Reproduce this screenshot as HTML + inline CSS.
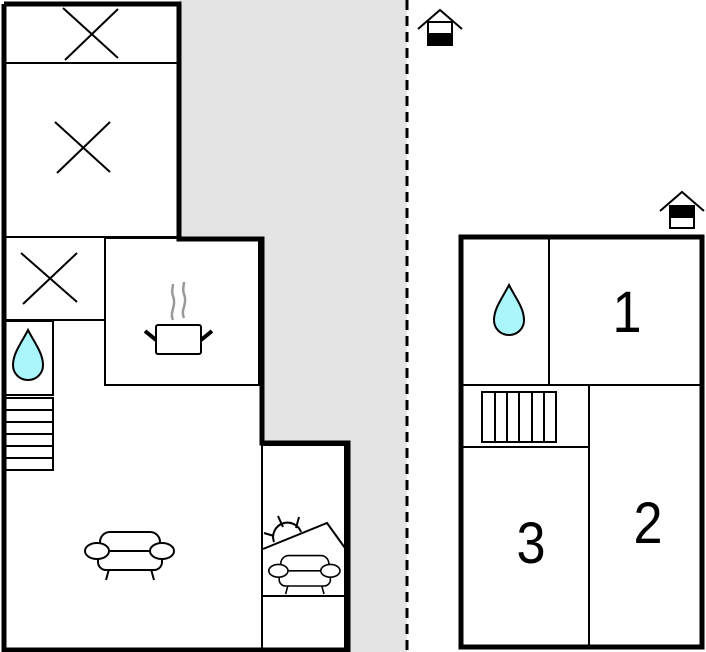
<!DOCTYPE html>
<html><head><style>html,body{margin:0;padding:0;background:#fff}svg{display:block}</style></head><body>
<svg width="706" height="652" viewBox="0 0 706 652" xmlns="http://www.w3.org/2000/svg" font-family="Liberation Sans, sans-serif">
<defs>
<g id="sofa" fill="#fff" stroke="#000" stroke-width="2">
<line x1="-20" y1="14" x2="-23" y2="25"/><line x1="22" y1="14" x2="25" y2="25"/>
<rect x="-29" y="-23" width="60" height="26" rx="10"/>
<rect x="-31" y="-4" width="64" height="19" rx="8"/>
<ellipse cx="-32" cy="-4" rx="12" ry="8"/><ellipse cx="33" cy="-4" rx="12" ry="8"/>
</g>
<g id="drop"><path d="M0,-25 C6,-13 15,-2 15,10 C15,19 8,25 0,25 C-8,25 -15,19 -15,10 C-15,-2 -6,-13 0,-25Z" fill="#aaf6fa" stroke="#000" stroke-width="2"/></g>
<g id="house" stroke="#000" fill="none" stroke-width="2"><polyline points="-22,11 0,-8 22,11"/></g>
</defs>
<rect x="179" y="0" width="228" height="652" fill="#e4e4e4"/>
<line x1="407" y1="0" x2="407" y2="652" stroke="#000" stroke-width="3" stroke-dasharray="10,6"/>
<polygon points="4,2 179,2 179,237 262,237 262,441 348,441 348,650 4,650" fill="#fff"/>
<g stroke="#000" stroke-width="2" fill="none">
<line x1="4" y1="63" x2="179" y2="63"/>
<line x1="63" y1="8" x2="118" y2="58"/><line x1="65" y1="60" x2="118" y2="9"/>
<line x1="55" y1="122" x2="110" y2="172"/><line x1="57" y1="173" x2="110" y2="122"/>
<line x1="4" y1="237" x2="179" y2="237"/>
<rect x="105" y="238" width="154" height="147"/>
<line x1="4" y1="320" x2="105" y2="320"/>
<line x1="21" y1="253" x2="77" y2="302"/><line x1="23" y1="304" x2="77" y2="253"/>
<rect x="4" y="321" width="49" height="74"/>
<rect x="4" y="398" width="49" height="72"/>
<line x1="4" y1="410" x2="53" y2="410"/><line x1="4" y1="422" x2="53" y2="422"/><line x1="4" y1="434" x2="53" y2="434"/><line x1="4" y1="446" x2="53" y2="446"/><line x1="4" y1="458" x2="53" y2="458"/>
<rect x="262" y="445" width="83" height="205"/>
<line x1="262" y1="596" x2="345" y2="596"/>
<path d="M263,549 L327,523 L345,548" />
<path d="M274,542 A13,13 0 0 1 301,532"/>
<line x1="278" y1="516" x2="283" y2="527"/><line x1="299" y1="517" x2="296" y2="528"/><line x1="264" y1="533" x2="274" y2="536"/>
<rect x="156" y="325" width="45" height="29" rx="2"/>
</g>
<g stroke="#999" stroke-width="2.5" fill="none"><path d="M173,320 c-4,-8 4,-14 0,-24 c-2,-5 0,-8 0,-12"/><path d="M184,318 c-4,-8 4,-14 0,-24 c-2,-5 0,-8 0,-12"/></g>
<g stroke="#000" stroke-width="4"><line x1="145" y1="331" x2="156" y2="340"/><line x1="212" y1="331" x2="201" y2="340"/></g>
<use href="#drop" x="28" y="355"/>
<use href="#sofa" x="129" y="555"/>
<g transform="translate(304,574) scale(0.8)"><use href="#sofa"/></g>
<polyline points="4,4 4,650 348,650 348,443 262,443 262,239 179,239 179,4 4,4" fill="none" stroke="#000" stroke-width="5"/>
<rect x="461" y="237" width="241" height="410" fill="#fff" stroke="#000" stroke-width="5"/>
<g stroke="#000" stroke-width="2" fill="none">
<line x1="549" y1="237" x2="549" y2="385"/>
<line x1="461" y1="385" x2="702" y2="385"/>
<line x1="589" y1="385" x2="589" y2="647"/>
<line x1="461" y1="447" x2="589" y2="447"/>
<rect x="482" y="392" width="74" height="50"/>
<line x1="495" y1="392" x2="495" y2="442"/><line x1="507" y1="392" x2="507" y2="442"/><line x1="519" y1="392" x2="519" y2="442"/><line x1="532" y1="392" x2="532" y2="442"/><line x1="544" y1="392" x2="544" y2="442"/>
</g>
<use href="#drop" x="509" y="310"/>
<text x="627" y="332" font-size="58" text-anchor="middle" transform="translate(627,332) scale(0.9,1) translate(-627,-332)">1</text>
<text x="648" y="543" font-size="58" text-anchor="middle" transform="translate(648,543) scale(0.9,1) translate(-648,-543)">2</text>
<text x="531" y="563" font-size="58" text-anchor="middle" transform="translate(531,563) scale(0.9,1) translate(-531,-563)">3</text>
<g transform="translate(440,18)"><use href="#house"/><rect x="-12" y="4" width="24" height="12" fill="#fff" stroke="#000" stroke-width="2"/><rect x="-13" y="16" width="26" height="12" fill="#000"/></g>
<g transform="translate(682,200)"><use href="#house"/><rect x="-13" y="5" width="26" height="12" fill="#000"/><rect x="-12" y="17" width="24" height="11" fill="#fff" stroke="#000" stroke-width="2"/></g>
</svg>
</body></html>
